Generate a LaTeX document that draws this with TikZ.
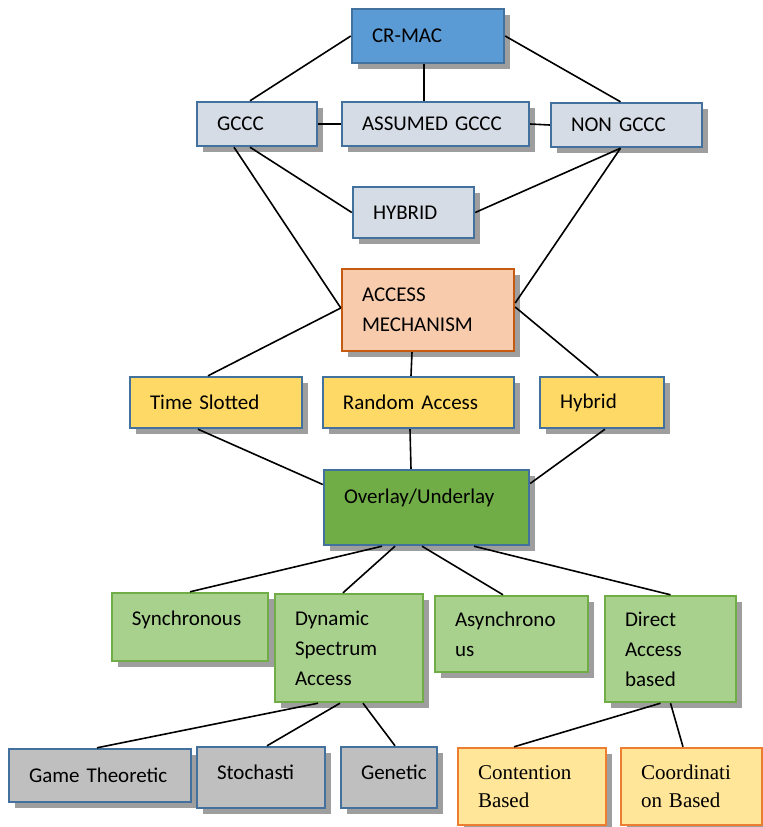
\documentclass[tikz,border=0pt]{standalone}
\usepackage{fontspec}
\setmainfont{Carlito}
\newfontfamily\serifbox{Liberation Serif}
\usetikzlibrary{positioning,calc,shadows}

\definecolor{macblue}{HTML}{5B9BD5}
\definecolor{edgeblue}{HTML}{41719C}
\definecolor{palegrey}{HTML}{D6DCE5}
\definecolor{peach}{HTML}{F8CBAD}
\definecolor{rust}{HTML}{C55A11}
\definecolor{gold}{HTML}{FFD966}
\definecolor{leaf}{HTML}{70AD47}
\definecolor{paleleaf}{HTML}{A9D18E}
\definecolor{stone}{HTML}{BFBFBF}
\definecolor{cream}{HTML}{FFE699}
\definecolor{tangerine}{HTML}{ED7D31}

\begin{document}
\begin{tikzpicture}[
    x=0.5pt, y=-0.5pt,
    box/.style={draw=edgeblue, line width=1.2pt, inner xsep=10pt, align=left,
      font=\fontsize{10.5}{15}\selectfont,
      drop shadow={shadow xshift=3pt, shadow yshift=-3pt, fill=black!38, opacity=1}},
    link/.style={line width=0.8pt}
  ]
    \useasboundingbox (0,0) rectangle (763,827);

    % top level
    \node[box, fill=macblue, text width=56pt, minimum height=27pt] (crmac) at (428,36) {CR-MAC};
    \node[box, fill=palegrey, text width=40pt, minimum height=22pt] (gccc) at (257,124) {GCCC};
    \node[box, fill=palegrey, text width=73.5pt, minimum height=22pt] (assumed) at (435.5,124) {ASSUMED GCCC};
    \node[box, fill=palegrey, text width=55.5pt, minimum height=22pt] (nongccc) at (626.5,125) {NON GCCC};
    \node[box, fill=palegrey, text width=40.5pt, minimum height=25.5pt] (hybridtop) at (413.5,212.5) {HYBRID};

    % access mechanism
    \node[box, draw=rust, fill=peach, text width=66pt, minimum height=41pt] (access) at (428,310) {ACCESS\\MECHANISM};
    \node[box, fill=gold, text width=66pt, minimum height=25.5pt] (timeslot) at (216,402.5) {Time Slotted};
    \node[box, fill=gold, text width=75.5pt, minimum height=25.5pt] (random) at (418.5,402.5) {Random Access};
    \node[box, fill=gold, text width=42pt, minimum height=25.5pt] (hybrid) at (602,402.5) {Hybrid};
    \node[box, fill=leaf, text width=82.5pt, minimum height=37.5pt, text height=8pt, text depth=12.2pt] (overlay) at (426.5,507.5) {Overlay/Underlay};

    % spectrum access
    \node[box, draw=leaf, fill=paleleaf, text width=58pt, minimum height=34pt, text height=8pt, text depth=9.2pt] (sync) at (190,627) {Synchronous};
    \node[box, draw=leaf, fill=paleleaf, text width=54pt, minimum height=54pt] (dsa) at (349,648) {Dynamic\\Spectrum\\Access};
    \node[box, draw=leaf, fill=paleleaf, text width=56.5pt, minimum height=38pt] (async) at (511.5,634) {Asynchrono\\us};
    \node[box, draw=leaf, fill=paleleaf, text width=45.5pt, minimum height=53pt] (direct) at (670.5,649) {Direct\\Access\\based};

    % bottom row
    \node[box, fill=stone, text width=71pt, minimum height=26.5pt] (game) at (100,775.5) {Game Theoretic};
    \node[box, fill=stone, text width=44pt, minimum height=30.5pt, text height=8pt, text depth=6.2pt] (stoch) at (261,777.5) {Stochasti};
    \node[box, fill=stone, text width=28pt, minimum height=30.5pt, text height=8pt, text depth=6.2pt] (genetic) at (389,777.5) {Genetic};
    \node[box, draw=tangerine, fill=cream, text width=54pt, minimum height=38.5pt, font=\serifbox\fontsize{10.5}{14}\selectfont] (contention) at (532,786.5) {Contention\\Based};
    \node[box, draw=tangerine, fill=cream, text width=50.5pt, minimum height=38.5pt, font=\serifbox\fontsize{10.5}{14}\selectfont] (coord) at (691.5,786.5) {Coordinati\\on Based};

    \draw[link] (crmac.west) -- ($(gccc.north)+(-7,0)$);
    \draw[link] (crmac.east) -- ($(nongccc.north)+(-6,0)$);
    \draw[link] ($(crmac.south)+(-4,0)$) -- ($(assumed.north)+(-11.5,0)$);
    \draw[link] (gccc.east) -- (assumed.west);
    \draw[link] (assumed.east) -- (nongccc.west);
    \draw[link] ($(gccc.south)+(-23,0)$) -- ($(access.west)+(0,-2)$);
    \draw[link] ($(gccc.south)+(-7,0)$) -- (hybridtop.west);
    \draw[link] ($(nongccc.south)+(-6,0)$) -- (hybridtop.east);
    \draw[link] ($(nongccc.south)+(-6,0)$) -- ($(access.east)+(0,-7)$);

    \draw[link] ($(access.south)+(-16,0)$) -- ($(random.north)+(-7.5,0)$);
    \draw[link] ($(access.west)+(0,-2)$) -- ($(timeslot.north)+(-8,0)$);
    \draw[link] ($(access.east)+(0,-3)$) -- ($(hybrid.north)+(-4,0)$);
    \draw[link] ($(timeslot.south)+(-18,0)$) -- ($(overlay.west)+(0,-23)$);
    \draw[link] ($(random.south)+(-8.5,0)$) -- ($(overlay.north)+(-15.5,0)$);
    \draw[link] ($(hybrid.south)+(3,0)$) -- ($(overlay.east)+(0,-24)$);

    \draw[link] ($(overlay.south)+(-44.5,0)$) -- (sync.north);
    \draw[link] ($(overlay.south)+(-31.5,0)$) -- ($(dsa.north)+(-6,0)$);
    \draw[link] ($(overlay.south)+(-4.5,0)$) -- ($(async.north)+(-8.5,0)$);
    \draw[link] ($(overlay.south)+(47.5,0)$) -- (direct.north);

    \draw[link] ($(dsa.south)+(-31,0)$) -- ($(game.north)+(-3,0)$);
    \draw[link] ($(dsa.south)+(-9,0)$) -- ($(stoch.north)+(6,0)$);
    \draw[link] ($(dsa.south)+(14,0)$) -- ($(genetic.north)+(6,0)$);
    \draw[link] ($(direct.south)+(-10,0)$) -- ($(contention.north)+(-18,0)$);
    \draw[link] (direct.south) -- ($(coord.north)+(-8.5,0)$);
\end{tikzpicture}
\end{document}
